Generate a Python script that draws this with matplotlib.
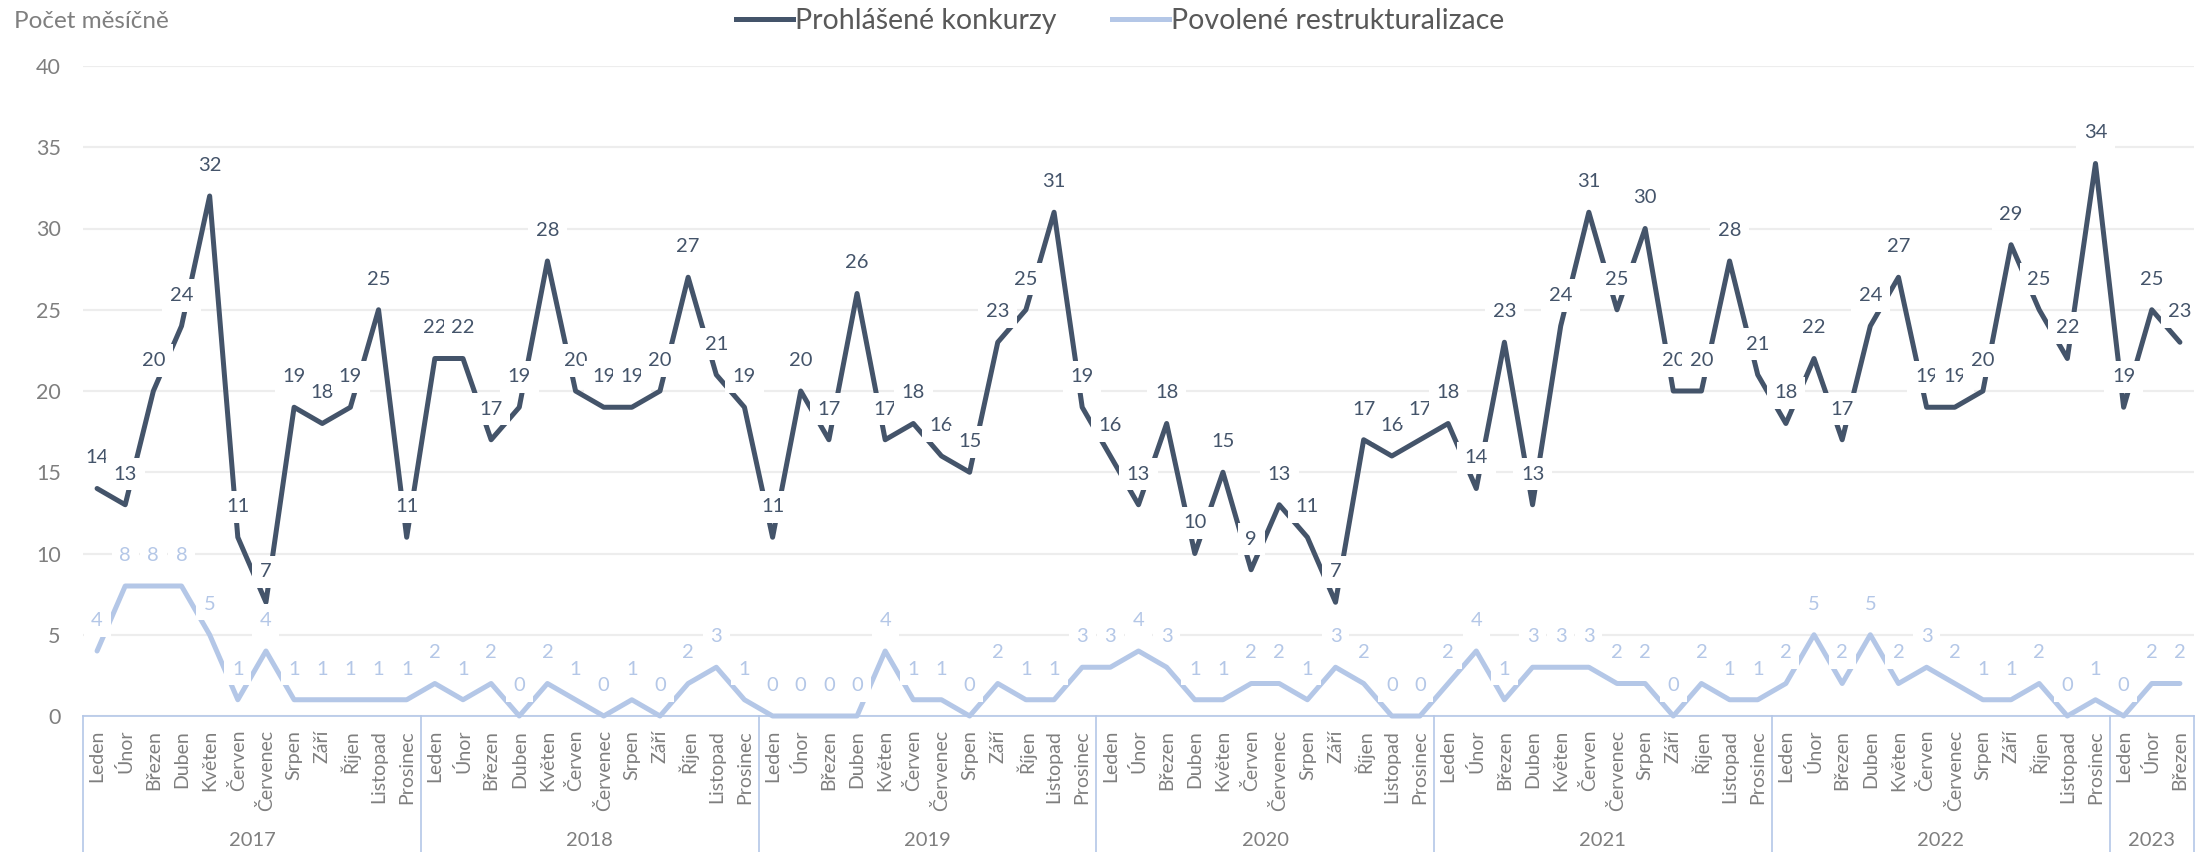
import numpy as np
import matplotlib
matplotlib.use('Agg')
import matplotlib.pyplot as plt
from matplotlib.transforms import blended_transform_factory
from matplotlib.lines import Line2D

plt.rcParams['font.family'] = ['Lato', 'DejaVu Sans']

# ---------------- data ----------------
months = ['Leden', 'Únor', 'Březen', 'Duben', 'Květen', 'Červen', 'Červenec',
          'Srpen', 'Září', 'Říjen', 'Listopad', 'Prosinec']
years = ['2017', '2018', '2019', '2020', '2021', '2022', '2023']
months_per_year = [12, 12, 12, 12, 12, 12, 3]

konkurzy = [
    14, 13, 20, 24, 32, 11, 7, 19, 18, 19, 25, 11,      # 2017
    22, 22, 17, 19, 28, 20, 19, 19, 20, 27, 21, 19,     # 2018
    11, 20, 17, 26, 17, 18, 16, 15, 23, 25, 31, 19,     # 2019
    16, 13, 18, 10, 15, 9, 13, 11, 7, 17, 16, 17,       # 2020
    18, 14, 23, 13, 24, 31, 25, 30, 20, 20, 28, 21,     # 2021
    18, 22, 17, 24, 27, 19, 19, 20, 29, 25, 22, 34,     # 2022
    19, 25, 23,                                         # 2023
]
restrukturalizace = [
    4, 8, 8, 8, 5, 1, 4, 1, 1, 1, 1, 1,                 # 2017
    2, 1, 2, 0, 2, 1, 0, 1, 0, 2, 3, 1,                 # 2018
    0, 0, 0, 0, 4, 1, 1, 0, 2, 1, 1, 3,                 # 2019
    3, 4, 3, 1, 1, 2, 2, 1, 3, 2, 0, 0,                 # 2020
    2, 4, 1, 3, 3, 3, 2, 2, 0, 2, 1, 1,                 # 2021
    2, 5, 2, 5, 2, 3, 2, 1, 1, 2, 0, 1,                 # 2022
    0, 2, 2,                                            # 2023
]
series_names = ['Prohlášené konkurzy', 'Povolené restrukturalizace']
y_title = 'Počet měsíčně'
y_ticks = [0, 5, 10, 15, 20, 25, 30, 35, 40]

# ---------------- style ----------------
DARK = '#44546A'
LIGHT = '#B4C7E7'
GRID = '#EDEDED'
TICK_GRAY = '#7F7F7F'
LEGEND_GRAY = '#595959'

W, H = 2208, 852
fig = plt.figure(figsize=(W / 100, H / 100), dpi=100)
left_px, right_px, top_px, axis_px = 83, 2194, 66, 716
ax = fig.add_axes([left_px / W, (H - axis_px) / H,
                   (right_px - left_px) / W, (axis_px - top_px) / H])

cat_labels = []
for n in months_per_year:
    cat_labels.extend(months[:n])
x = np.arange(len(cat_labels))

ax.plot(x, restrukturalizace, color=LIGHT, lw=3.6, zorder=3,
        solid_joinstyle='round', solid_capstyle='round', clip_on=False)
ax.plot(x, konkurzy, color=DARK, lw=3.6, zorder=4,
        solid_joinstyle='round', solid_capstyle='round', clip_on=False)

ax.set_xlim(-0.5, len(x) - 0.5)
ax.set_ylim(0, 40)
ax.set_yticks(y_ticks)
ax.yaxis.grid(True, color=GRID, lw=1.6)
ax.set_axisbelow(True)
for s in ['top', 'right', 'left']:
    ax.spines[s].set_visible(False)
ax.spines['bottom'].set_color(LIGHT)
ax.spines['bottom'].set_linewidth(1.2)

ax.tick_params(axis='y', length=0, pad=16, labelsize=15.5, labelcolor=TICK_GRAY)
ax.set_xticks(x)
ax.set_xticklabels(cat_labels, rotation=90, fontsize=14, color=TICK_GRAY)
ax.tick_params(axis='x', length=0, pad=10)

# data labels
for xi, v in zip(x, restrukturalizace):
    ax.annotate(str(v), (xi, v), xytext=(0, 22), textcoords='offset points',
                ha='center', va='center', fontsize=14.5, color=LIGHT, zorder=5,
                bbox=dict(boxstyle='square,pad=0.38', fc='white', ec='none'))
for xi, v in zip(x, konkurzy):
    ax.annotate(str(v), (xi, v), xytext=(0, 22), textcoords='offset points',
                ha='center', va='center', fontsize=14.5, color=DARK, zorder=6,
                bbox=dict(boxstyle='square,pad=0.38', fc='white', ec='none'))

# year groups
trans = blended_transform_factory(ax.transData, ax.transAxes)
axes_h = axis_px - top_px
sep_bottom = -(H - axis_px) / axes_h
bounds = np.concatenate([[0], np.cumsum(months_per_year)]) - 0.5
for b in bounds:
    ax.plot([b, b], [0, sep_bottom], transform=trans, color=LIGHT, lw=1.2,
            clip_on=False, zorder=1)
year_y = -(840 - axis_px) / axes_h
for i, yr in enumerate(years):
    cx = (bounds[i] + bounds[i + 1]) / 2
    ax.text(cx, year_y, yr, transform=trans, ha='center', va='center',
            fontsize=14.5, color=TICK_GRAY)

# title / legend
fig.text(14 / W, 1 - 21 / H, y_title, ha='left', va='center',
         fontsize=17.5, color=TICK_GRAY)
handles = [Line2D([], [], color=DARK, lw=3.6),
           Line2D([], [], color=LIGHT, lw=3.6)]
fig.legend(handles, series_names, loc='center', bbox_to_anchor=(1120 / W, 1 - 21 / H),
           ncol=2, frameon=False, fontsize=20.5, handlelength=2.0,
           handletextpad=0.08, columnspacing=1.95, labelcolor=LEGEND_GRAY,
           borderpad=0, borderaxespad=0)

fig.savefig('out.png', dpi=100)
